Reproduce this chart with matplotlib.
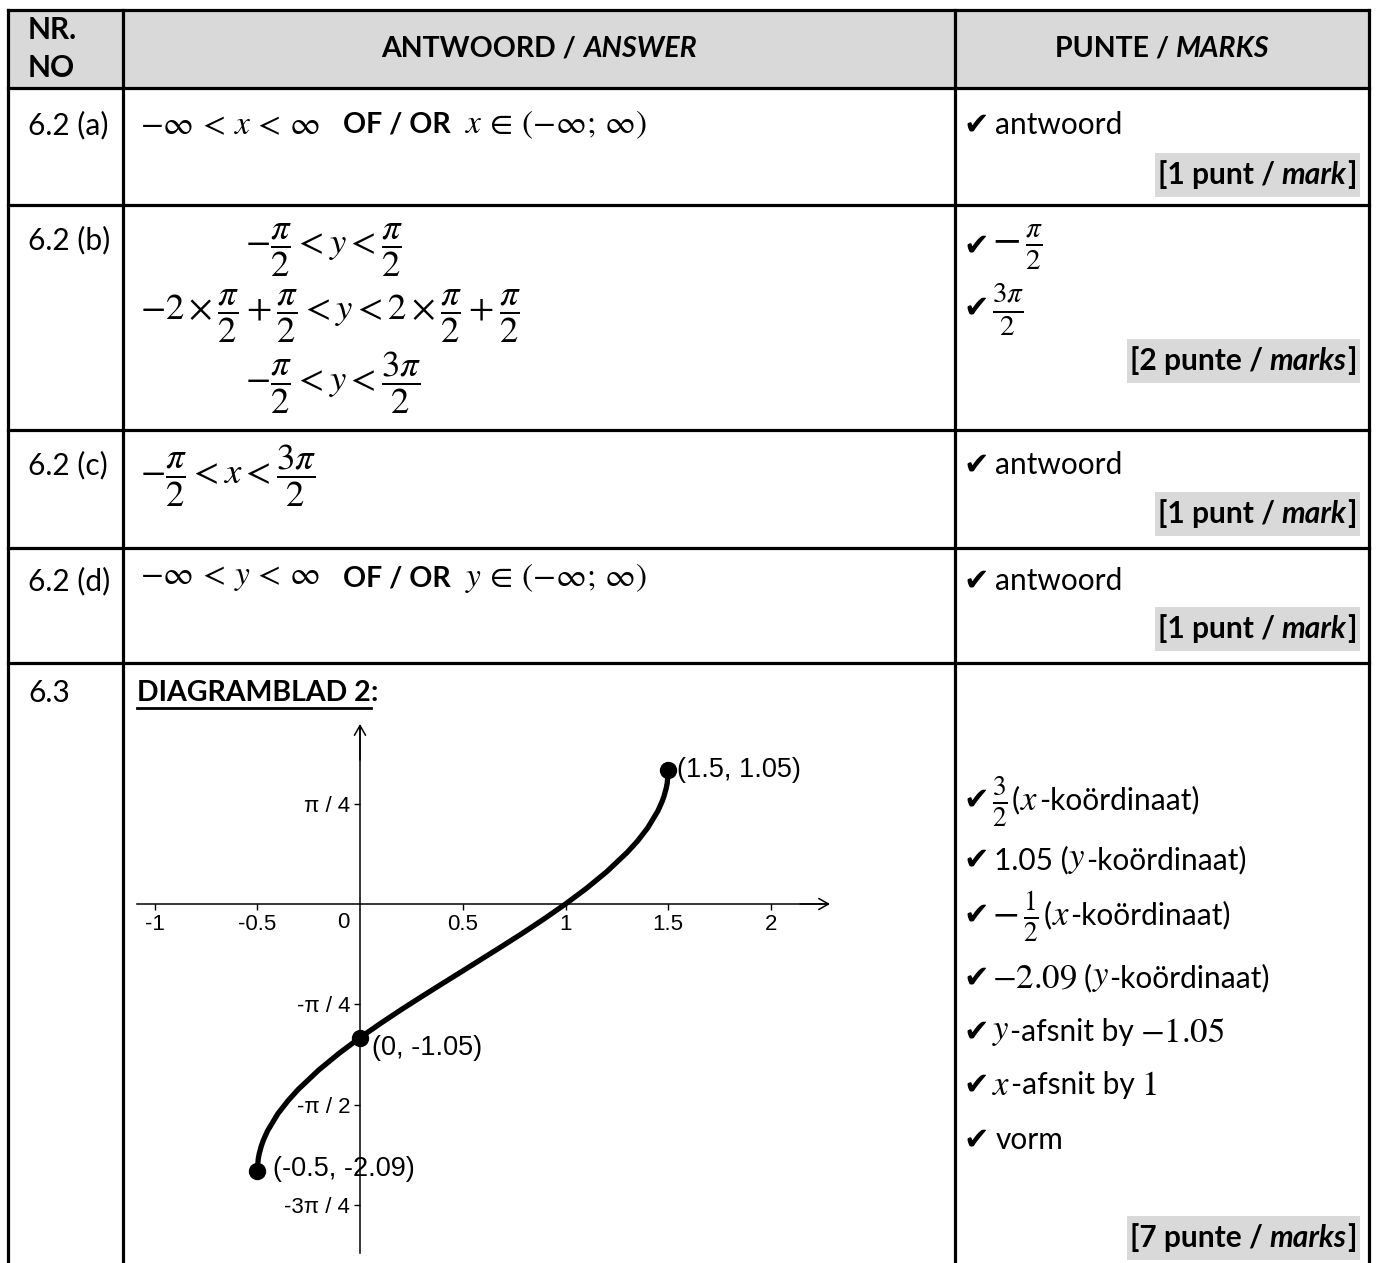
import matplotlib
matplotlib.use('Agg')
import matplotlib.pyplot as plt
from matplotlib.patches import Rectangle

plt.rcParams['mathtext.fontset'] = 'stix'
plt.rcParams['font.family'] = ['Lato', 'DejaVu Sans']

W, H = 1376, 1263

# ---------------- data ----------------
curve_x = [-0.5, -0.495, -0.49, -0.48, -0.47, -0.45, -0.4, -0.35, -0.3, -0.2, -0.1, 0.0,
           0.1, 0.2, 0.3, 0.4, 0.5, 0.6, 0.7, 0.8, 0.9, 1.0, 1.1, 1.2, 1.3, 1.35,
           1.4, 1.45, 1.47, 1.48, 1.49, 1.495, 1.5]
curve_y = [-2.094, -1.994, -1.953, -1.894, -1.849, -1.777, -1.643, -1.540, -1.451, -1.299,
           -1.167, -1.047, -0.935, -0.828, -0.725, -0.624, -0.524, -0.423, -0.322, -0.219,
           -0.112, 0.0, 0.120, 0.252, 0.404, 0.492, 0.596, 0.730, 0.802, 0.847, 0.906,
           0.947, 1.047]
point_x = [1.5, 0.0, -0.5]
point_y = [1.05, -1.05, -2.09]
point_labels = ['(1.5, 1.05)', '(0, -1.05)', '(-0.5, -2.09)']
x_ticks = [-1, -0.5, 0.5, 1, 1.5, 2]
x_tick_labels = ['-1', '-0.5', '0.5', '1', '1.5', '2']
y_ticks = [0.785, -0.785, -1.571, -2.356]
y_tick_labels = ['π / 4', '-π / 4', '-π / 2', '-3π / 4']

row_numbers = ['6.2 (a)', '6.2 (b)', '6.2 (c)', '6.2 (d)', '6.3']
mark_counts = ['1 punt', '2 punte', '1 punt', '1 punt', '7 punte']
mark_words = ['mark', 'marks', 'mark', 'mark', 'marks']

# ---------------- layout ----------------
fig = plt.figure(figsize=(W / 100, H / 100), dpi=100)
bg = fig.add_axes([0, 0, 1, 1])
bg.set_xlim(0, W)
bg.set_ylim(H, 0)
bg.axis('off')
renderer = fig.canvas.get_renderer()

FS = 21.5
MS = 26.5     # left-column fraction math size
MA = 24       # left-column inline math size
RM = 25       # right-column math size


def run(x, y, parts, ha='left', size=FS, box=False):
    objs = []
    total = 0
    for p in parts:
        s, style = p[0], p[1]
        gap = p[2] if len(p) > 2 else 0
        fs = p[3] if len(p) > 3 else size
        dy = p[4] if len(p) > 4 else 0
        kw = dict(fontsize=fs, va='center', ha='left')
        if 'b' in style:
            kw['fontweight'] = 'bold'
        if 'i' in style:
            kw['fontstyle'] = 'italic'
        if 'c' in style:
            kw['family'] = 'DejaVu Sans'
            kw['fontsize'] = 22
        t = bg.text(0, y + dy, s, **kw)
        w = t.get_window_extent(renderer).width
        objs.append((t, w, gap))
        total += w + gap
    total -= objs[-1][2]
    x0 = {'left': x, 'center': x - total / 2, 'right': x - total}[ha]
    cx = x0
    for t, w, gap in objs:
        t.set_x(cx)
        cx += w + gap
    if box:
        bg.add_patch(Rectangle((x0 - 3, y - 22), total + 6, 44, fc='#d9d9d9',
                               ec='none', zorder=0.5))
    return x0, total


# header background
bg.add_patch(Rectangle((8, 10), 1361, 78, fc='#d9d9d9', ec='none', zorder=0.2))
LW = 2.3
for yy in [10, 88, 205, 430, 548, 663]:
    bg.plot([8, 1369], [yy, yy], color='black', lw=LW, solid_capstyle='projecting')
for xx in [8, 123, 955, 1369]:
    bg.plot([xx, xx], [10, H], color='black', lw=LW, solid_capstyle='projecting')

# header text
run(28, 30, [('NR.', 'b')])
run(28, 68, [('NO', 'b')])
run(539, 49, [('ANTWOORD /', 'b', 7), ('ANSWER', 'bi')], ha='center', size=20.5)
run(1162, 49, [('PUNTE /', 'b', 7), ('MARKS', 'bi')], ha='center', size=20.5)

# row numbers
for lab, yy in zip(row_numbers, [125, 240, 465, 581, 693]):
    run(28, yy, [(lab, '')])

# 6.2 (a)
run(140, 125, [(r'$-\infty\,<\,x\,<\,\infty$', '', 23, MA), ('OF / OR', 'b', 14, 20.5),
               (r'$x\,\in\,(-\infty;\,\infty)$', '', 0, MA)])
# 6.2 (b)
bg.text(245, 250, r'$-\dfrac{\pi}{2}<y<\dfrac{\pi}{2}$', fontsize=MS, va='center')
bg.text(140, 316, r'$-2\times\dfrac{\pi}{2}+\dfrac{\pi}{2}<y<2\times\dfrac{\pi}{2}+\dfrac{\pi}{2}$',
        fontsize=MS, va='center')
bg.text(245, 383, r'$-\dfrac{\pi}{2}<y<\dfrac{3\pi}{2}$', fontsize=MS, va='center')
# 6.2 (c)
bg.text(140, 476, r'$-\dfrac{\pi}{2}<x<\dfrac{3\pi}{2}$', fontsize=MS, va='center')
# 6.2 (d)
run(140, 578, [(r'$-\infty\,<\,y\,<\,\infty$', '', 23, MA), ('OF / OR', 'b', 14, 20.5),
               (r'$y\,\in\,(-\infty;\,\infty)$', '', 0, MA)])

# right column marks
run(963, 125, [('✔', 'c', 7), ('antwoord', '')])
run(963, 246, [('✔', 'c', 4), (r'$-\,\frac{\pi}{2}$', '', 0, 30, 2)])
run(963, 308, [('✔', 'c', 4), (r'$\frac{3\pi}{2}$', '', 0, 30, 2)])
run(963, 465, [('✔', 'c', 7), ('antwoord', '')])
run(963, 581, [('✔', 'c', 7), ('antwoord', '')])

items = [
    [('✔', 'c', 4), (r'$\frac{3}{2}$', '', 4, 28, 2), ('(', '', 0),
     (r'$x$', '', 0, RM), ('-koördinaat)', '')],
    [('✔', 'c', 5), ('1.05 (', '', 0), (r'$y$', '', 0, RM), ('-koördinaat)', '')],
    [('✔', 'c', 4), (r'$-\,\frac{1}{2}$', '', 4, 28, 2), ('(', '', 0),
     (r'$x$', '', 0, RM), ('-koördinaat)', '')],
    [('✔', 'c', 4), (r'$-2.09$', '', 6, RM), ('(', '', 0), (r'$y$', '', 0, RM),
     ('-koördinaat)', '')],
    [('✔', 'c', 4), (r'$y$', '', 0, RM), ('-afsnit by', '', 6), (r'$-1.05$', '', 0, RM)],
    [('✔', 'c', 4), (r'$x$', '', 0, RM), ('-afsnit by', '', 6), (r'$1$', '', 0, RM)],
    [('✔', 'c', 7), ('vorm', '')],
]
for parts, yy in zip(items, [800, 860, 915, 978, 1032, 1085, 1140]):
    run(963, yy, parts)

for cnt, word, yy in zip(mark_counts, mark_words, [175, 361, 514, 629, 1238]):
    run(1357, yy, [('[' + cnt + ' /', 'b', 7), (word, 'bi', 1), (']', 'b')],
        ha='right', box=True)

# DIAGRAMBLAD 2:
x0, tw = run(137, 693, [('DIAGRAMBLAD 2', 'b')], size=20.5)
run(137 + tw, 693, [(':', 'b')], size=20.5)
bg.plot([x0, x0 + tw], [708, 708], color='black', lw=2.0)

# ---------------- graph ----------------
PX0, PX1, PY0, PY1 = 130, 840, 715, 1263
ax = fig.add_axes([PX0 / W, 1 - PY1 / H, (PX1 - PX0) / W, (PY1 - PY0) / H])
ax.set_facecolor('none')
sx, sy = 205.5, 127.7
ax.set_xlim((PX0 - 360) / sx, (PX1 - 360) / sx)
ax.set_ylim((904 - PY1) / sy, (904 - PY0) / sy)
for s in ['top', 'right']:
    ax.spines[s].set_visible(False)
ax.spines['left'].set_position(('data', 0))
ax.spines['bottom'].set_position(('data', 0))
ax.spines['left'].set_bounds((904 - 1253) / sy, (904 - 728) / sy)
ax.spines['bottom'].set_bounds((137 - 360) / sx, (828 - 360) / sx)
for s in ['left', 'bottom']:
    ax.spines[s].set_linewidth(1.1)

ax.set_xticks(x_ticks, x_tick_labels)
ax.set_yticks(y_ticks, y_tick_labels)
ax.tick_params(axis='both', direction='out', length=4, width=1, pad=3, labelsize=16)
for lab in ax.get_xticklabels() + ax.get_yticklabels():
    lab.set_family('Liberation Sans')
ax.annotate('0', (0, 0), xytext=(-17, -8), textcoords='offset pixels', ha='center',
            va='top', fontsize=16, family='Liberation Sans')

ax.annotate('', xy=((830 - 360) / sx, 0), xytext=((800 - 360) / sx, 0),
            arrowprops=dict(arrowstyle='->,head_length=0.7,head_width=0.4', lw=1.1,
                            color='black', shrinkA=0, shrinkB=0))
ax.annotate('', xy=(0, (904 - 724) / sy), xytext=(0, (904 - 760) / sy),
            arrowprops=dict(arrowstyle='->,head_length=0.7,head_width=0.4', lw=1.1,
                            color='black', shrinkA=0, shrinkB=0))

ax.plot(curve_x, curve_y, color='black', lw=3.8, solid_capstyle='round',
        solid_joinstyle='round', clip_on=False)
ax.plot(point_x, point_y, 'o', ms=11.5, color='black', clip_on=False)
offsets = [(9, 0), (12, -10), (16, 2)]
for px, py, lab, off in zip(point_x, point_y, point_labels, offsets):
    ax.annotate(lab, (px, py), xytext=off, textcoords='offset pixels', ha='left',
                va='center', fontsize=19.5, family='Liberation Sans')

fig.savefig('out.png', dpi=100)
